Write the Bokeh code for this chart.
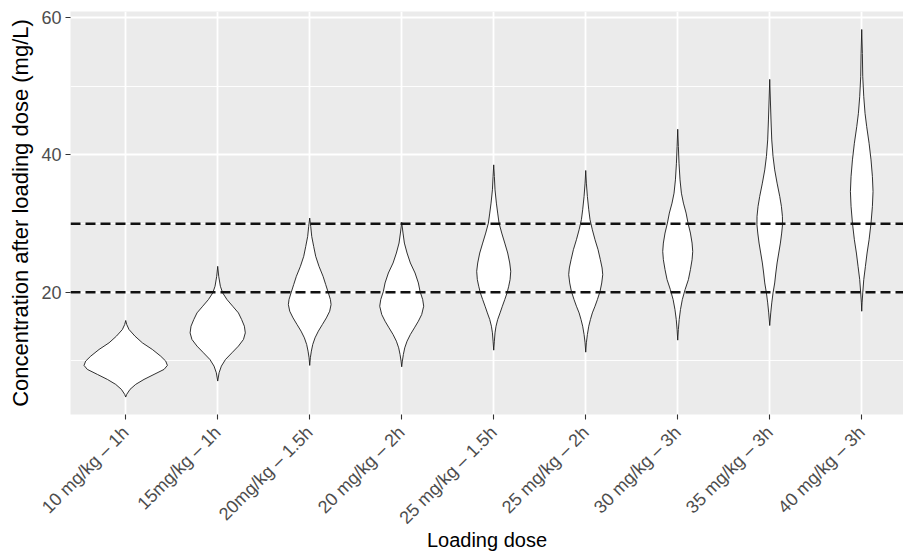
import numpy as np
from math import pi
from bokeh.plotting import figure
from bokeh.models import Range1d, FixedTicker, Span
from bokeh.embed import file_html
from bokeh.resources import INLINE

# ---------------- data ----------------
doses = ["10 mg/kg \u2013 1h", "15mg/kg \u2013 1h", "20mg/kg \u2013 1.5h", "20 mg/kg \u2013 2h",
         "25 mg/kg \u2013 1.5h", "25 mg/kg \u2013 2h", "30 mg/kg \u2013 3h", "35 mg/kg \u2013 3h",
         "40 mg/kg \u2013 3h"]
thresholds = [20, 30]
y_ticks = [20, 40, 60]
y_minor = [10, 30, 50]

# violin outlines: concentration levels (mg/L, top to bottom) and half-widths (category units)
v1_conc = [15.89, 15.31, 14.58, 13.61, 12.64, 11.67, 10.70, 9.98, 9.35, 8.77, 8.04, 7.31, 6.59, 5.86, 5.13, 4.74]
v1_half = [0, .011, .036, .101, .181, .29, .38, .435, .453, .417, .308, .199, .109, .047, .011, 0]

v2_conc = [23.78, 22.33, 20.88, 19.91, 18.94, 17.97, 17.0, 16.03, 15.06, 14.09, 13.13, 12.16, 11.19, 10.22, 9.25, 8.28, 7.07]
v2_half = [0, .011, .029, .054, .101, .163, .225, .26, .29, .30, .28, .225, .155, .085, .04, .015, 0]

v3_conc = [30.81, 29.60, 28.14, 26.69, 25.24, 23.78, 22.33, 21.12, 19.91, 18.94, 18.21, 17.24, 16.27, 15.31, 14.34, 13.37, 12.40, 11.43, 10.46, 9.35]
v3_half = [0, .011, .022, .043, .065, .101, .145, .174, .203, .225, .232, .217, .181, .138, .094, .058, .033, .018, .007, 0]

v4_conc = [30.18, 28.63, 27.17, 25.72, 24.27, 22.81, 21.36, 20.15, 18.94, 17.97, 16.76, 15.79, 14.82, 13.85, 12.88, 11.91, 10.94, 9.98, 9.15]
v4_half = [0, .014, .029, .058, .094, .145, .181, .199, .228, .239, .217, .181, .138, .094, .058, .033, .018, .007, 0]

v5_conc = [38.56, 36.87, 34.93, 32.99, 31.54, 30.08, 28.63, 27.17, 25.72, 24.27, 23.06, 21.85, 20.88, 19.91, 18.94, 17.97, 17.0, 16.03, 15.06, 14.09, 12.88, 11.57]
v5_half = [0, .007, .014, .029, .043, .058, .087, .12, .152, .174, .185, .178, .163, .145, .12, .094, .069, .043, .025, .014, .007, 0]

v6_conc = [37.74, 35.90, 33.96, 32.02, 30.57, 29.11, 27.66, 26.21, 24.75, 23.54, 22.57, 21.36, 20.15, 18.94, 17.97, 17.0, 16.03, 15.06, 13.85, 12.64, 11.28]
v6_half = [0, .007, .018, .033, .047, .072, .101, .134, .159, .178, .185, .174, .156, .127, .101, .072, .051, .033, .018, .007, 0]

v7_conc = [43.75, 41.23, 38.80, 36.38, 34.44, 32.99, 31.54, 30.08, 28.63, 27.17, 25.96, 24.75, 23.30, 21.85, 20.39, 18.94, 17.49, 16.03, 14.58, 13.03]
v7_half = [0, .007, .014, .025, .04, .062, .091, .112, .138, .156, .163, .156, .138, .116, .08, .05, .03, .016, .007, 0]

v8_conc = [51.01, 48.01, 45.10, 42.19, 39.77, 37.83, 35.90, 33.96, 32.51, 31.05, 29.84, 28.63, 27.17, 25.72, 24.27, 22.81, 21.36, 19.91, 18.46, 17.0, 15.16]
v8_half = [0, .007, .014, .022, .036, .054, .08, .109, .127, .138, .139, .13, .116, .098, .08, .066, .054, .036, .022, .011, 0]

v9_conc = [58.28, 54.79, 51.40, 48.49, 46.07, 44.13, 41.71, 39.29, 36.87, 34.69, 32.51, 30.08, 27.66, 25.72, 23.78, 21.85, 19.91, 18.46, 17.24]
v9_half = [0, .007, .011, .022, .036, .054, .08, .101, .116, .123, .116, .101, .08, .058, .04, .022, .011, .004, 0]

violins = [(v1_conc, v1_half), (v2_conc, v2_half), (v3_conc, v3_half), (v4_conc, v4_half),
           (v5_conc, v5_half), (v6_conc, v6_half), (v7_conc, v7_half), (v8_conc, v8_half),
           (v9_conc, v9_half)]

# ---------------- figure ----------------
FONT = "Liberation Sans"
p = figure(width=903, height=553, output_backend="svg", toolbar_location=None,
           x_range=Range1d(0.4, 9.454), y_range=Range1d(2.2, 60.9),
           min_border_left=70, min_border_top=11, min_border_right=0, min_border_bottom=138)
p.background_fill_color = "#EBEBEB"
p.border_fill_color = "white"
p.outline_line_color = None

positions = list(range(1, len(doses) + 1))

# grid
p.xgrid.ticker = FixedTicker(ticks=positions)
p.xgrid.grid_line_color = "white"
p.xgrid.grid_line_width = 1.8
p.ygrid.ticker = FixedTicker(ticks=y_ticks, minor_ticks=y_minor)
p.ygrid.grid_line_color = "white"
p.ygrid.grid_line_width = 1.8
p.ygrid.minor_grid_line_color = "white"
p.ygrid.minor_grid_line_width = 0.9

# violins
xs, ys = [], []
for pos, (conc, half) in zip(positions, violins):
    c = np.array(conc, dtype=float)
    h = np.array(half, dtype=float)
    xs.append(list(pos + h) + list((pos - h)[::-1]))
    ys.append(list(c) + list(c[::-1]))
p.patches(xs=xs, ys=ys, fill_color="white", line_color="#1a1a1a", line_width=0.9)

# threshold lines
for t in thresholds:
    p.add_layout(Span(location=t, dimension="width", line_color="#111111",
                      line_width=2.5, line_dash="10 5"))

# axes
for ax in (p.xaxis[0], p.yaxis[0]):
    ax.axis_line_color = None
    ax.major_tick_line_color = "#333333"
    ax.major_tick_line_width = 1.1
    ax.major_tick_out = 5
    ax.major_tick_in = 0
    ax.minor_tick_line_color = None
    ax.major_label_text_font = FONT
    ax.major_label_text_font_size = "18px"
    ax.major_label_text_color = "#4D4D4D"
    ax.axis_label_text_font = FONT
    ax.axis_label_text_font_style = "normal"
    ax.axis_label_text_color = "black"

p.xaxis.ticker = FixedTicker(ticks=positions)
p.xaxis.major_label_overrides = {pos: lab for pos, lab in zip(positions, doses)}
p.xaxis.major_label_orientation = pi / 4
p.xaxis.major_label_standoff = 10
p.xaxis.axis_label = "Loading dose"
p.xaxis.axis_label_text_font_size = "20px"
p.xaxis.axis_label_standoff = -9

p.yaxis.ticker = FixedTicker(ticks=y_ticks)
p.yaxis.major_label_standoff = 4
p.yaxis.axis_label = "Concentration after loading dose (mg/L)"
p.yaxis.axis_label_text_font_size = "22px"
p.yaxis.axis_label_standoff = 5

open("out.html", "w").write(file_html(p, INLINE))
